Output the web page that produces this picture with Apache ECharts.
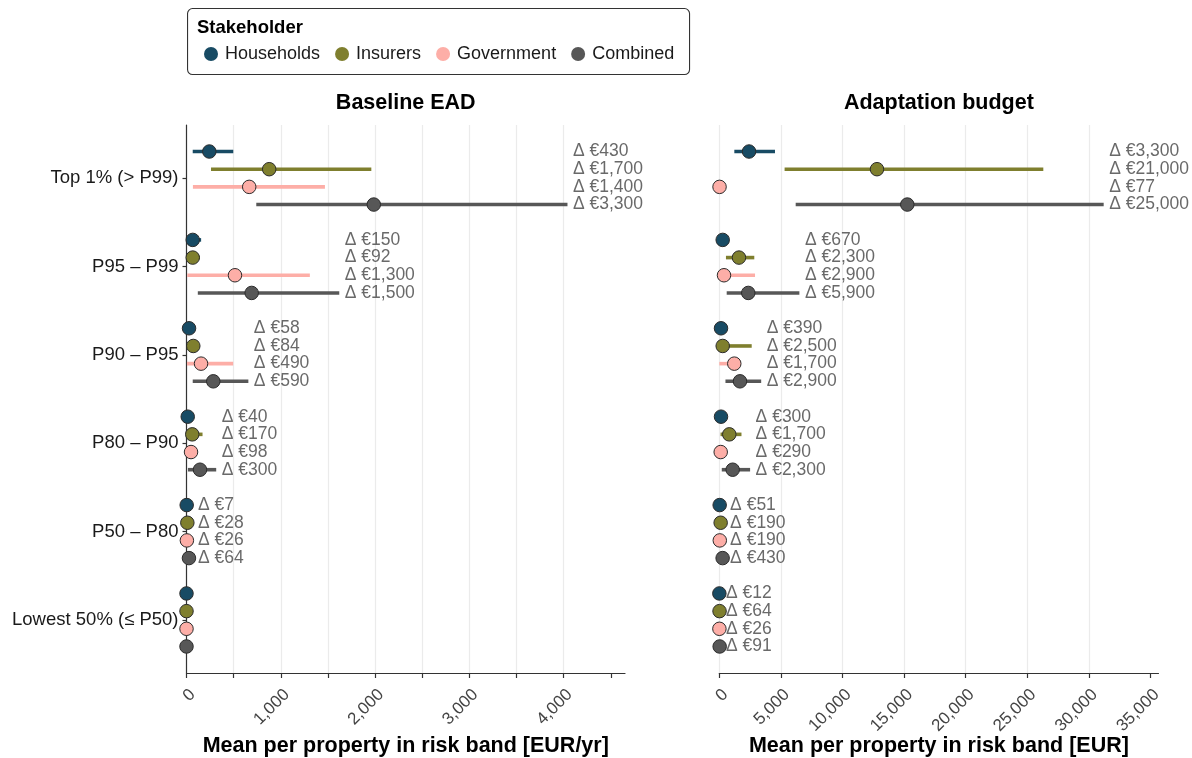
<!DOCTYPE html>
<html>
<head>
<meta charset="utf-8">
<script src="https://cdn.jsdelivr.net/npm/echarts@6/dist/echarts.min.js"></script>
<style>
  html, body { margin: 0; padding: 0; background: #fff; }
  #chart { width: 1192px; height: 758px; }
</style>
</head>
<body>
<div id="chart"></div>
<script>
// Risk bands, top to bottom
const bands = ['Top 1% (> P99)', 'P95 – P99', 'P90 – P95', 'P80 – P90', 'P50 – P80', 'Lowest 50% (≤ P50)'];
const stakeholders = ['Households', 'Insurers', 'Government', 'Combined'];
const stakeholderColors = ['#184b64', '#7f7f2e', '#fdaea7', '#575757'];

// Baseline EAD [EUR/yr]: mean, lower end of range and width of range (Δ)
const eadMeanHouseholds = [242, 66, 27, 13, 2, 0];
const eadMeanInsurers   = [877, 66, 72, 61, 9, 0];
const eadMeanGovernment = [665, 514, 154, 48, 4, 0];
const eadMeanCombined   = [1986, 691, 284, 143, 26, 0];
const eadLowHouseholds  = [66, 5, 5, 0, 0, 0];
const eadLowInsurers    = [260, 51, 30, 0, 0, 0];
const eadLowGovernment  = [68, 8, 5, 0, 0, 0];
const eadLowCombined    = [740, 120, 66, 15, 0, 0];
const eadDeltaHouseholds = [430, 150, 58, 40, 7, null];
const eadDeltaInsurers   = [1700, 92, 84, 170, 28, null];
const eadDeltaGovernment = [1400, 1300, 490, 98, 26, null];
const eadDeltaCombined   = [3300, 1500, 590, 300, 64, null];

// Adaptation budget [EUR]: mean, lower end of range and width of range (Δ)
const budgetMeanHouseholds = [2415, 276, 138, 138, 30, 5];
const budgetMeanInsurers   = [12800, 1597, 276, 811, 110, 20];
const budgetMeanGovernment = [20, 381, 1216, 114, 40, 8];
const budgetMeanCombined   = [15260, 2351, 1678, 1086, 270, 30];
const budgetLowHouseholds  = [1220, 0, 0, 0, 0, 0];
const budgetLowInsurers    = [5300, 540, 130, 100, 0, 0];
const budgetLowGovernment  = [0, 0, 0, 0, 0, 0];
const budgetLowCombined    = [6200, 600, 500, 200, 0, 0];
const budgetDeltaHouseholds = [3300, 670, 390, 300, 51, 12];
const budgetDeltaInsurers   = [21000, 2300, 2500, 1700, 190, 64];
const budgetDeltaGovernment = [77, 2900, 1700, 290, 190, 26];
const budgetDeltaCombined   = [25000, 5900, 2900, 2300, 430, 91];

const eadTicks = [0, 500, 1000, 1500, 2000, 2500, 3000, 3500, 4000, 4500];
const eadTickLabels = [0, 1000, 2000, 3000, 4000];
const budgetTicks = [0, 5000, 10000, 15000, 20000, 25000, 30000, 35000];

const panels = [
  {
    title: 'Baseline EAD',
    axisName: 'Mean per property in risk band [EUR/yr]',
    mean: [eadMeanHouseholds, eadMeanInsurers, eadMeanGovernment, eadMeanCombined],
    low: [eadLowHouseholds, eadLowInsurers, eadLowGovernment, eadLowCombined],
    delta: [eadDeltaHouseholds, eadDeltaInsurers, eadDeltaGovernment, eadDeltaCombined],
    max: 4650, interval: 500, ticks: eadTicks, tickLabels: eadTickLabels,
    left: 186.5, right: 567
  },
  {
    title: 'Adaptation budget',
    axisName: 'Mean per property in risk band [EUR]',
    mean: [budgetMeanHouseholds, budgetMeanInsurers, budgetMeanGovernment, budgetMeanCombined],
    low: [budgetLowHouseholds, budgetLowInsurers, budgetLowGovernment, budgetLowCombined],
    delta: [budgetDeltaHouseholds, budgetDeltaInsurers, budgetDeltaGovernment, budgetDeltaCombined],
    max: 35650, interval: 5000, ticks: budgetTicks, tickLabels: budgetTicks,
    left: 719.3, right: 33.5
  }
];

const FONT = '"Liberation Sans", Arial, Helvetica, sans-serif';
const GRID_TOP = 125, GRID_BOTTOM = 85;
const DODGE = [-0.3, -0.1, 0.1, 0.3];
const fmt = v => Math.round(v).toLocaleString('en-US');

const chart = echarts.init(document.getElementById('chart'), null, { renderer: 'canvas' });

const grids = [], xAxes = [], yAxes = [], series = [];

function rangeRender(params, api) {
  const y = api.value(2);
  const a = api.coord([api.value(0), y]);
  const b = api.coord([api.value(1), y]);
  return {
    type: 'line',
    shape: { x1: a[0], y1: a[1], x2: b[0], y2: b[1] },
    style: { stroke: api.visual('color'), lineWidth: 3.6, lineCap: 'butt' }
  };
}

panels.forEach((p, pi) => {
  grids.push({
    left: p.left, right: p.right, top: GRID_TOP, bottom: GRID_BOTTOM,
    containLabel: false, outerBoundsMode: 'none'
  });
  xAxes.push({
    gridIndex: pi, type: 'value', min: 0, max: p.max, interval: p.interval,
    name: p.axisName, nameLocation: 'middle', nameGap: 62, nameMoveOverlap: false,
    nameTextStyle: { fontFamily: FONT, fontWeight: 'bold', fontSize: 21.5, color: '#000' },
    axisLine: { show: true, onZero: false, lineStyle: { color: '#333', width: 1.2 } },
    axisTick: { show: true, length: 5, customValues: p.ticks, lineStyle: { color: '#333', width: 1.2 } },
    axisLabel: {
      customValues: p.tickLabels, rotate: 45, margin: 13, verticalAlign: 'top',
      formatter: v => fmt(v),
      fontFamily: FONT, fontSize: 17, color: '#444'
    },
    splitLine: { show: true, showMaxLine: false, lineStyle: { color: '#ebebeb', width: 1.2 } }
  });
  yAxes.push({
    gridIndex: pi, type: 'value', inverse: true, min: -0.6, max: 5.6,
    axisLine: { show: pi === 0, onZero: false, lineStyle: { color: '#333', width: 1.2 } },
    axisTick: { show: pi === 0, length: 4, customValues: [0, 1, 2, 3, 4, 5], lineStyle: { color: '#333', width: 1.2 } },
    axisLabel: {
      show: pi === 0, customValues: [0, 1, 2, 3, 4, 5], margin: 8,
      formatter: v => bands[Math.round(v)] || '',
      fontFamily: FONT, fontSize: 18.5, color: '#1a1a1a'
    },
    splitLine: { show: false }
  });

  stakeholders.forEach((name, k) => {
    const rangeData = [], dotData = [];
    bands.forEach((b, i) => {
      const y = i + DODGE[k];
      const lo = p.low[k][i];
      const d = p.delta[k][i];
      if (d != null) rangeData.push([lo, lo + d, y]);
      dotData.push([p.mean[k][i], y]);
    });
    series.push({
      name, type: 'custom', xAxisIndex: pi, yAxisIndex: pi,
      renderItem: rangeRender, encode: { x: [0, 1], y: 2 },
      itemStyle: { color: stakeholderColors[k] },
      data: rangeData, z: 2, silent: true
    });
    series.push({
      name, type: 'scatter', xAxisIndex: pi, yAxisIndex: pi,
      symbol: 'circle', symbolSize: 13.5,
      itemStyle: { color: stakeholderColors[k], borderColor: '#2b2b2b', borderWidth: 1, opacity: 1 },
      data: dotData, z: 3, silent: true
    });
  });

  // Δ labels, aligned just right of the widest range in each band
  const labelData = [];
  bands.forEach((b, i) => {
    let xMax = -Infinity;
    stakeholders.forEach((s, k) => {
      const d = p.delta[k][i];
      if (d != null) xMax = Math.max(xMax, p.low[k][i] + d);
    });
    stakeholders.forEach((s, k) => {
      const d = p.delta[k][i];
      if (d != null) labelData.push([xMax, i + DODGE[k], 'Δ €' + fmt(d)]);
    });
  });
  series.push({
    name: 'range width', type: 'scatter', xAxisIndex: pi, yAxisIndex: pi,
    symbolSize: 1, itemStyle: { color: 'rgba(0,0,0,0)' }, silent: true, z: 4,
    label: {
      show: true, position: 'right', distance: 5, formatter: q => q.value[2],
      fontFamily: FONT, fontSize: 17.5, color: '#444'
    },
    labelLayout: { hideOverlap: false },
    data: labelData
  });
});

const graphic = [
  {
    type: 'rect', left: 187, top: 8, z: 10,
    shape: { width: 502, height: 66, r: 5 },
    style: { fill: '#fff', stroke: '#333', lineWidth: 1.1 }
  },
  {
    type: 'text', left: 197, top: 18.5, z: 11,
    style: { text: 'Stakeholder', font: 'bold 18.5px ' + FONT, fill: '#000' }
  }
];
panels.forEach((p, pi) => {
  const cx = pi === 0 ? 186.5 + (1192 - 567 - 186.5) / 2 : 719.3 + (1192 - 33.5 - 719.3) / 2;
  graphic.push({
    type: 'text', x: cx, y: 103, z: 11,
    style: { text: p.title, font: 'bold 21.5px ' + FONT, fill: '#000', align: 'center', verticalAlign: 'middle' }
  });
});

chart.setOption({
  backgroundColor: '#fff',
  animation: false,
  textStyle: { fontFamily: FONT },
  grid: grids,
  xAxis: xAxes,
  yAxis: yAxes,
  legend: {
    data: stakeholders.map(s => ({ name: s, icon: 'circle' })),
    left: 199, top: 40, z: 12,
    itemWidth: 14, itemHeight: 14, itemGap: 15,
    itemStyle: { borderWidth: 0 },
    textStyle: { fontFamily: FONT, fontSize: 18, color: '#1a1a1a', padding: [0, 0, 0, 2] },
    selectedMode: false
  },
  graphic,
  series
});
</script>
</body>
</html>
